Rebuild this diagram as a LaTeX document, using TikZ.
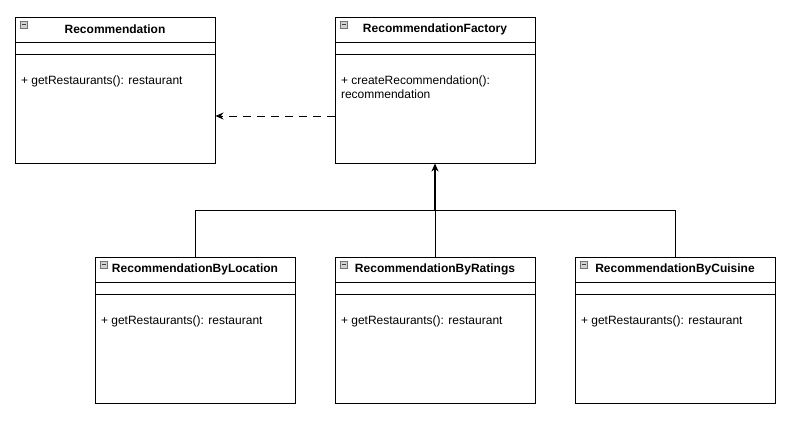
\documentclass[tikz,border=0pt]{standalone}
\usepackage{fontspec}
\setmainfont{Liberation Sans}
\usetikzlibrary{positioning,arrows.meta}

\begin{document}
\begin{tikzpicture}
        [x=1pt, y=-1pt, line width=1pt,
        font=\fontsize{12}{14}\selectfont,
        classbox/.style={draw=black, rectangle, minimum width=200pt,
        minimum height=146pt, inner sep=0pt},
        title/.style={font=\fontsize{12}{14}\selectfont\bfseries, inner sep=0pt},
        member/.style={anchor=north west, align=left, inner sep=0pt},
        depends/.style={draw=black, dash pattern=on 8pt off 6pt,
        -{Stealth[length=8pt,width=7pt]}},
        extends/.style={draw=black, line width=2pt,
        -{Stealth[length=8pt,width=7pt]}}]
        \useasboundingbox (0,0) rectangle (791,440);
        % class boxes
        \node[classbox] (rec) at (115,90) {};
        \node[classbox] (fac) at (435,90) {};
        \node[classbox] (loc) at (195,330) {};
        \node[classbox] (rat) at (435,330) {};
        \node[classbox] (cui) at (675,330) {};
        % compartments and collapse icons
        \foreach \c in {rec,fac,loc,rat,cui} {
            \draw ([yshift=-26pt]\c.north west) -- ([yshift=-26pt]\c.north east);
            \draw ([yshift=-38pt]\c.north west) -- ([yshift=-38pt]\c.north east);
            \draw[line width=0.7pt, draw=black!55, fill=black!18]
                ([xshift=5.5pt,yshift=-4.5pt]\c.north west) rectangle ++(7,7);
            \draw[line width=1pt, draw=black!75]
                ([xshift=7pt,yshift=-8pt]\c.north west) -- ++(4,0);
        }
        % titles
        \node[title] (rec-name) at ([yshift=-13pt]rec.north) {Recommendation};
        \node[title] (fac-name) at ([yshift=-13pt]fac.north) {RecommendationFactory};
        \node[title] (loc-name) at ([yshift=-13pt]loc.north) {RecommendationByLocation};
        \node[title] (rat-name) at ([yshift=-13pt]rat.north) {RecommendationByRatings};
        \node[title] (cui-name) at ([yshift=-13pt]cui.north) {RecommendationByCuisine};
        % operations
        \node[member] (rec-ops) at ([xshift=6pt,yshift=-59pt]rec.north west)
            {+ getRestaurants(): restaurant};
        \node[member] (fac-ops) at ([xshift=6pt,yshift=-59pt]fac.north west)
            {+ createRecommendation():\\recommendation};
        \node[member] (loc-ops) at ([xshift=6pt,yshift=-59pt]loc.north west)
            {+ getRestaurants(): restaurant};
        \node[member] (rat-ops) at ([xshift=6pt,yshift=-59pt]rat.north west)
            {+ getRestaurants(): restaurant};
        \node[member] (cui-ops) at ([xshift=6pt,yshift=-59pt]cui.north west)
            {+ getRestaurants(): restaurant};
        % relations
        \coordinate (join) at (435,210);
        \draw[depends] ([yshift=-26pt]fac.west) -- ([yshift=-26pt]rec.east);
        \draw (loc.north) |- (join);
        \draw (cui.north) |- (join);
        \draw (rat.north) -- (join);
        \draw[extends] (join) -- (fac.south);
\end{tikzpicture}
\end{document}
